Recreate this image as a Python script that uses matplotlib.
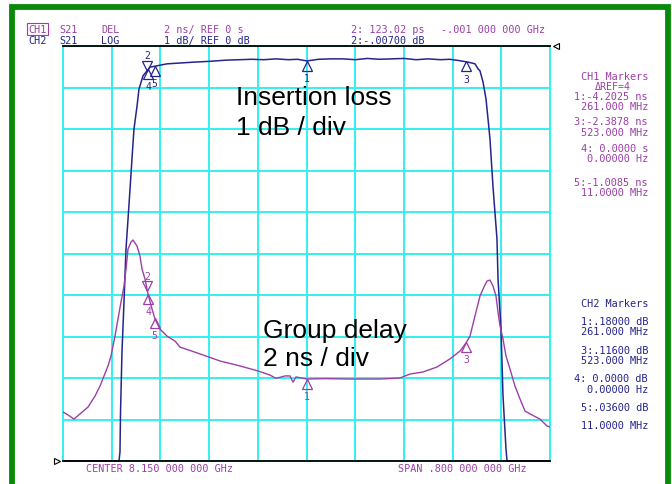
import matplotlib
matplotlib.use("Agg")
import matplotlib.pyplot as plt
import numpy as np
from matplotlib.patches import Rectangle
from matplotlib.transforms import offset_copy

# CH2: insertion loss (S21 LOG), GHz / dB
il_freq = [7.750, 7.842, 7.8436, 7.8445, 7.8469, 7.8502, 7.8535, 7.8568, 7.8601,
           7.8633, 7.8666, 7.8716, 7.8748, 7.8814, 7.8929, 7.9208, 7.9636, 7.990,
           8.0194, 8.040, 8.060, 8.080, 8.100, 8.120, 8.135, 8.1508, 8.170, 8.190,
           8.210, 8.230, 8.250, 8.270, 8.290, 8.310, 8.330, 8.350, 8.370, 8.385,
           8.400, 8.412, 8.4186, 8.4268, 8.4318, 8.4350, 8.4400, 8.4449, 8.4482,
           8.4514, 8.4564, 8.4629, 8.4646, 8.4695, 8.4728, 8.4777, 8.4794, 8.550]
il_db = [-10.0, -10.0, -9.78, -8.82, -7.37, -6.17, -4.89, -4.17, -3.45,
         -2.72, -2.00, -1.45, -1.04, -0.72, -0.51, -0.43, -0.39, -0.37,
         -0.34, -0.33, -0.32, -0.33, -0.31, -0.33, -0.32, -0.36, -0.32, -0.31,
         -0.31, -0.33, -0.30, -0.32, -0.31, -0.30, -0.33, -0.31, -0.33, -0.32,
         -0.35, -0.38, -0.40, -0.43, -0.55, -0.60, -0.87, -1.28, -1.76,
         -2.24, -3.40, -4.65, -5.61, -6.82, -8.43, -9.71, -10.0, -10.0]

# CH1: group delay (S21 DEL), GHz / ns
gd_freq = [7.750, 7.7582, 7.7681, 7.7779, 7.7911, 7.8026, 7.8108, 7.8174, 7.8239,
           7.8289, 7.8321, 7.8354, 7.8403, 7.8453, 7.8502, 7.8535, 7.8568, 7.8617,
           7.8650, 7.8716, 7.8765, 7.8798, 7.8847, 7.8896, 7.8962, 7.9011, 7.9093,
           7.9208, 7.9340, 7.9422, 7.9751, 8.0079, 8.0408, 8.0703, 8.0900, 8.1000,
           8.1147, 8.1229, 8.1278, 8.1328, 8.1508, 8.1800, 8.2215, 8.2707, 8.3036,
           8.3200, 8.3414, 8.3644, 8.3857, 8.4022, 8.4120, 8.4186, 8.4268, 8.4350,
           8.4416, 8.4465, 8.4514, 8.4564, 8.4613, 8.4646, 8.4679, 8.4728, 8.4777,
           8.4843, 8.4925, 8.5007, 8.5089, 8.5171, 8.5335, 8.5450, 8.550]
gd_ns = [2.36, 2.22, 2.02, 2.27, 2.60, 3.13, 3.61, 4.10, 4.58,
         5.06, 5.54, 6.02, 6.84, 7.66, 8.43, 9.25, 10.22, 10.55,
         10.65, 10.36, 9.88, 9.25, 8.77, 8.05, 7.33, 6.84, 6.36,
         6.02, 5.78, 5.49, 5.16, 4.82, 4.58, 4.34, 4.14, 3.98,
         4.10, 4.10, 3.80, 4.05, 3.95, 3.97, 3.95, 3.95, 4.00,
         4.19, 4.29, 4.53, 4.92, 5.30, 5.69, 6.02, 6.99, 7.95,
         8.39, 8.67, 8.72, 8.43, 7.95, 7.18, 6.51, 5.88, 5.06,
         4.43, 3.61, 2.99, 2.41, 2.27, 2.02, 1.69, 1.64]

# markers (GHz), relative to marker 4
mk_ref = 7.8896
mk_ids = ["1", "2", "3", "4", "5"]
mk_delta = [0.261, -0.001, 0.523, 0.0, 0.011]
mk_active = "2"

purple = "#9b3fa6"
navy = "#24248c"
cyan = "#33f0f0"

fig = plt.figure(figsize=(6.72, 4.85), dpi=100)
W, H = 672.0, 485.0


def fx(px):
    return px / W


def fy(py):
    return 1 - py / H


ax = fig.add_axes([fx(63), fy(462), 487 / W, 415 / H])
ax.set_xlim(7.75, 8.55)
ax.set_ylim(-10, 0)
ax.set_xticks(np.linspace(7.75, 8.55, 11))
ax.set_yticks(np.arange(-10, 1, 1))
ax.grid(True, color=cyan, lw=1.4)
ax.tick_params(length=0, labelbottom=False, labelleft=False)
for s in ["left", "right"]:
    ax.spines[s].set_color(cyan)
    ax.spines[s].set_linewidth(1.4)
for s in ["top", "bottom"]:
    ax.spines[s].set_color("black")
    ax.spines[s].set_linewidth(1.3)

ax2 = ax.twinx()
ax2.set_ylim(0, 20)
ax2.set_yticks([])
for s in ax2.spines.values():
    s.set_visible(False)

ax2.plot(gd_freq, gd_ns, color=purple, lw=1.0)
ax.plot(il_freq, il_db, color=navy, lw=1.1, clip_on=False)


def put_marker(a, f, y, label, color, active):
    if active:
        tr = offset_copy(a.transData, fig=fig, x=0, y=3.3, units="points")
        a.plot(f, y, marker="v", ms=6.6, mfc="none", mec=color, mew=0.9,
               transform=tr, clip_on=False)
        a.annotate(label, (f, y), xytext=(0, 11), textcoords="offset points",
                   ha="center", va="center", color=color, fontsize=7,
                   family="DejaVu Sans Mono")
    else:
        tr = offset_copy(a.transData, fig=fig, x=0, y=-3.3, units="points")
        a.plot(f, y, marker="^", ms=6.6, mfc="none", mec=color, mew=0.9,
               transform=tr, clip_on=False)
        a.annotate(label, (f, y), xytext=(0, -12), textcoords="offset points",
                   ha="center", va="center", color=color, fontsize=7,
                   family="DejaVu Sans Mono")


for mid, d in zip(mk_ids, mk_delta):
    f = mk_ref + d
    put_marker(ax, f, np.interp(f, il_freq, il_db), mid, navy, mid == mk_active)
    put_marker(ax2, f, np.interp(f, gd_freq, gd_ns), mid, purple, mid == mk_active)

# reference level pointers
ax.plot(0, 0, marker=">", ms=5, mfc="white", mec="black", mew=0.8,
        transform=offset_copy(ax.transAxes, fig=fig, x=-4, y=0, units="points"),
        clip_on=False)
ax.plot(1, 1, marker="<", ms=5, mfc="white", mec="black", mew=0.8,
        transform=offset_copy(ax.transAxes, fig=fig, x=4, y=0, units="points"),
        clip_on=False)

# big annotations
big = dict(fontsize=19, family="Liberation Sans", color="black", va="center", ha="left")
fig.text(fx(236), fy(98), "Insertion loss", **big)
fig.text(fx(236), fy(128), "1 dB / div", **big)
fig.text(fx(263), fy(331), "Group delay", **big)
fig.text(fx(263), fy(359), "2 ns / div", **big)

# instrument text
mono = dict(family="DejaVu Sans Mono", fontsize=7.3, va="center", ha="left")
fig.text(fx(28), fy(30), "CH1", color=purple,
         bbox=dict(boxstyle="square,pad=0.12", fc="none", ec=purple, lw=0.8), **mono)
fig.text(fx(59), fy(30), "S21", color=purple, **mono)
fig.text(fx(101), fy(30), "DEL", color=purple, **mono)
fig.text(fx(164), fy(30), "2 ns/ REF 0 s", color=purple, **mono)
fig.text(fx(351), fy(30), "2: 123.02 ps", color=purple, **mono)
fig.text(fx(441), fy(30), "-.001 000 000 GHz", color=purple, **mono)
fig.text(fx(28), fy(41), "CH2", color=navy, **mono)
fig.text(fx(59), fy(41), "S21", color=navy, **mono)
fig.text(fx(101), fy(41), "LOG", color=navy, **mono)
fig.text(fx(164), fy(41), "1 dB/ REF 0 dB", color=navy, **mono)
fig.text(fx(351), fy(41), "2:-.00700 dB", color=navy, **mono)

fig.text(fx(86), fy(469), "CENTER 8.150 000 000 GHz", color=purple, **mono)
fig.text(fx(398), fy(469), "SPAN .800 000 000 GHz", color=purple, **mono)

side = dict(family="DejaVu Sans Mono", fontsize=7.4, va="center", ha="right")
ch1_lines = [("CH1 Markers", 77), ("1:-4.2025 ns", 97), ("261.000 MHz", 107),
             ("3:-2.3878 ns", 122), ("523.000 MHz", 133), ("4: 0.0000 s", 149),
             ("0.00000 Hz", 159), ("5:-1.0085 ns", 183), ("11.0000 MHz", 193)]
for t, y in ch1_lines:
    fig.text(fx(648), fy(y), t, color=purple, **side)
fig.text(fx(613), fy(87), "\u0394REF=4", color=purple, family="DejaVu Sans Mono",
         fontsize=7.1, va="center", ha="center")
ch2_lines = [("CH2 Markers", 304), ("1:.18000 dB", 322), ("261.000 MHz", 332),
             ("3:.11600 dB", 351), ("523.000 MHz", 361), ("4: 0.0000 dB", 379),
             ("0.00000 Hz", 390), ("5:.03600 dB", 408), ("11.0000 MHz", 426)]
for t, y in ch2_lines:
    fig.text(fx(648), fy(y), t, color=navy, **side)

# green frame
fig.patches.append(Rectangle((fx(12), -0.1), fx(668) - fx(12), fy(7.5) + 0.1,
                             transform=fig.transFigure, fill=False,
                             ec="#0a8a0a", lw=4.2, clip_on=False))

fig.savefig("out.png", dpi=100)
